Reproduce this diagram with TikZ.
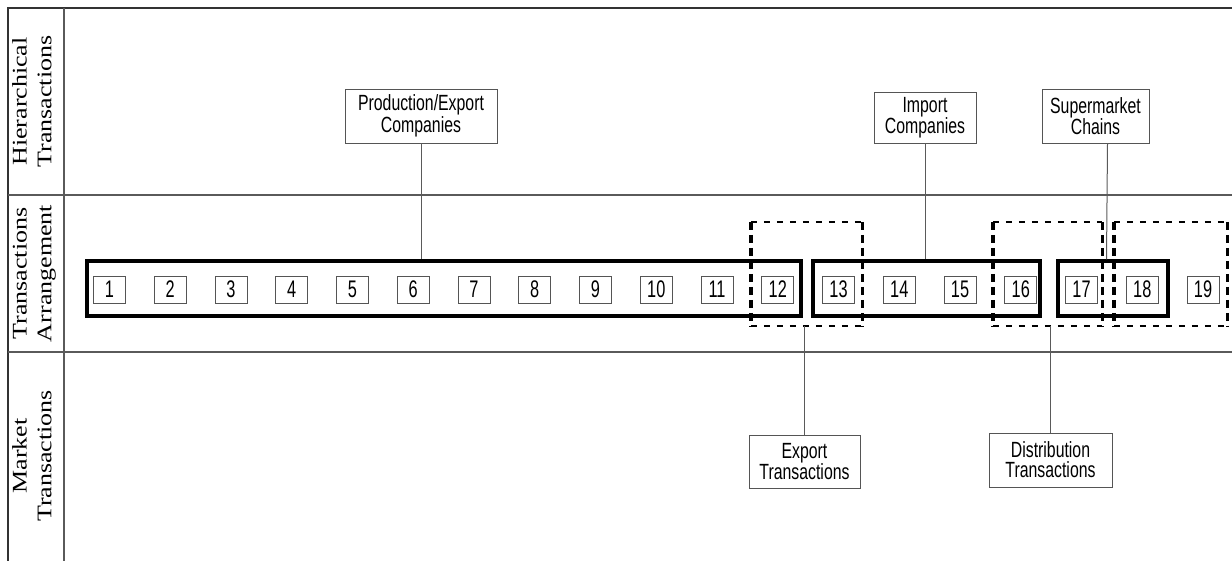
\documentclass[tikz,border=0pt]{standalone}
\usepackage{fontspec}
\usepackage{graphicx}
\newfontfamily\labfont[FakeStretch=0.72]{Liberation Sans}
\newfontfamily\numfont[FakeStretch=0.68]{Liberation Sans}
\newfontfamily\serfont{Liberation Serif}
\definecolor{gridgray}{HTML}{5A5A5A}
\definecolor{boxgray}{HTML}{555555}
\tikzset{
  gridline/.style={draw=gridgray, line width=1.2pt},
  numbox/.style={draw=boxgray, line width=0.9pt, minimum width=32pt, minimum height=27pt, inner sep=0pt,
    font=\numfont\fontsize{24}{24}\selectfont},
  bigbox/.style={draw=black, line width=3.2pt, inner sep=0pt},
  dashnode/.style={draw=none, inner sep=0pt},
  dashh/.style={draw=black, line width=2.2pt, dash pattern=on 6pt off 7pt},
  dashv/.style={draw=black, line width=3.4pt, dash pattern=on 8pt off 5pt},
  labbox/.style={draw=boxgray, line width=0.9pt, inner sep=0pt, align=center,
    font=\labfont\fontsize{22}{20}\selectfont},
  conn/.style={draw=gridgray, line width=1pt},
  sidelab/.style={rotate=90, inner sep=0pt}
}
\newcommand{\sidetext}[2]{\scalebox{1}[0.8]{\serfont\fontsize{26}{31}\selectfont\begin{tabular}{@{}c@{}}#1\\#2\end{tabular}}}
\begin{document}
\begin{tikzpicture}[x=1pt,y=-1pt]
\useasboundingbox (0,0) rectangle (1232,561);
% frame
\coordinate (tl) at (8,8);
\coordinate (tr) at (1232,8);
\coordinate (bl) at (8,561);
\coordinate (cl) at (64,8);
\coordinate (cb) at (64,561);
\coordinate (h1l) at (8,195);
\coordinate (h1r) at (1232,195);
\coordinate (h2l) at (8,352);
\coordinate (h2r) at (1232,352);
\draw[gridline, draw=black!80] (tr) -- (tl) -- (bl);
\draw[gridline] (cl) -- (cb);
\draw[gridline] (h1l) -- (h1r);
\draw[gridline] (h2l) -- (h2r);
% side labels
\node[sidelab] (s1) at (34,101.5) {\sidetext{Hierarchical}{Transactions}};
\node[sidelab] (s2) at (34,273.5) {\sidetext{Transactions}{Arrangement}};
\node[sidelab] (s3) at (34,456) {\sidetext{Market}{Transactions}};
% big solid boxes
\node[bigbox, minimum width=714pt, minimum height=55pt] (A) at (444,288.5) {};
\node[bigbox, minimum width=227pt, minimum height=55pt] (B) at (926.5,288.5) {};
\node[bigbox, minimum width=110pt, minimum height=55pt] (C) at (1113,288.5) {};
% dashed boxes
\node[dashnode, minimum width=111pt, minimum height=104pt] (D1) at (806.5,274) {};
\node[dashnode, minimum width=109pt, minimum height=104pt] (D2) at (1047.5,274) {};
\node[dashnode, minimum width=113pt, minimum height=104pt] (D3) at (1170.5,274) {};
\foreach \d in {D1,D2,D3} {
  \draw[dashh] (\d.north west) -- (\d.north east);
  \draw[dashh] (\d.south west) -- (\d.south east);
  \draw[dashv] (\d.north west) -- (\d.south west);
  \draw[dashv] (\d.north east) -- (\d.south east);
}
% numbered boxes
\foreach \i in {1,...,19} {
  \node[numbox, fill=white] (n\i) at ({109.5+60.75*(\i-1)},289.5) {\i};
}
% label boxes
\node[labbox, minimum width=152pt, minimum height=54pt] (pe) at (421,116) {Production/Export\\Companies};
\node[labbox, minimum width=102pt, minimum height=51pt] (ic) at (925,117.5) {Import\\Companies};
\node[labbox, minimum width=107pt, minimum height=54pt] (sc) at (1095.5,116) {Supermarket\\Chains};
\node[labbox, minimum width=111pt, minimum height=53pt] (et) at (804.5,461.5) {Export\\Transactions};
\node[labbox, minimum width=123pt, minimum height=54pt] (dt) at (1050.5,460) {Distribution\\Transactions};
% connectors
\draw[conn] (pe.south) -- (pe.south |- A.north);
\draw[conn] (ic.south) -- (ic.south |- B.north);
\draw[conn] ([xshift=12pt]sc.south) -- ([xshift=11pt]sc.south |- C.north);
\draw[conn] (et.north) -- (et.north |- D1.south);
\draw[conn] (dt.north) -- (dt.north |- D2.south);
\end{tikzpicture}
\end{document}
